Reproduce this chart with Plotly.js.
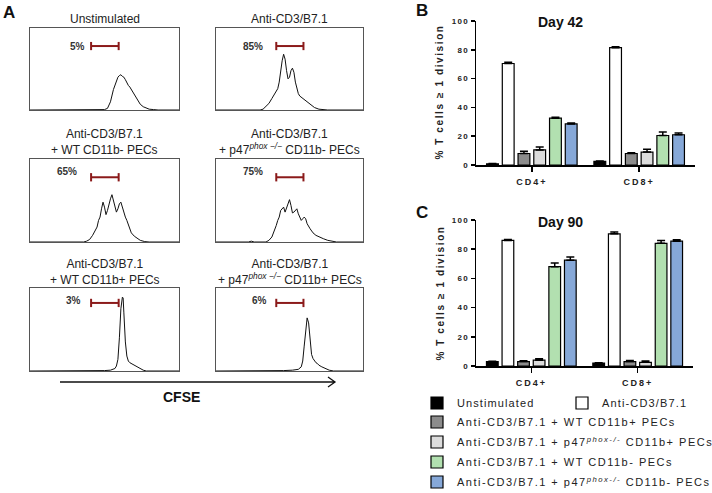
<!DOCTYPE html>
<html><head><meta charset="utf-8">
<script src="https://cdn.plot.ly/plotly-3.0.1.min.js"></script>
<style>
body{margin:0;padding:0;background:#fff}
#chart{width:712px;height:493px}
.x7tick text, .x8tick text{letter-spacing:2px}
.y7tick text, .y8tick text{letter-spacing:1.3px}
</style>
</head><body><div id="chart"></div>
<script>
// ---------- Panel A histogram data (x: CFSE position %, y: % of box height) ----------
const unstimX = [0,48,50,52,54,56,58,59,60,61,62,63,64,65,66,67,68,70,72,74,76,78,80,83,86,100];
const unstimY = [0,0,0.5,2,10,25,36,40,42,43,41,40,37,33,30,28,25,18,12,7,4,2,1,0.5,0,0];
const antiX = [0,30,32,34,36,38,40,41,42,43,44,45,46,47,48,49,50,51,52,53,54,55,56,57,59,61,63,65,67,70,73,76,100];
const antiY = [0,0,1,4,8,14,20,24,26,34,48,60,68,62,48,38,40,48,51,46,34,26,20,17,14,11,8,5,3,1,0.5,0,0];
const wtNegX = [0,36,38,40,42,44,45,46,47,48,49,50,51,52,53,54,55,56,57,58,59,60,61,62,63,64,65,66,67,68,70,72,74,77,80,100];
const wtNegY = [0,0,1,3,8,16,18,26,30,40,48,42,33,38,46,52,57,50,40,36,40,46,48,42,34,30,26,20,15,11,7,4,2,0.5,0,0];
const p47NegX = [0,22,24,26,34,36,38,40,41,42,43,44,45,46,47,48,49,50,51,52,53,54,55,56,57,58,59,60,61,62,64,66,68,70,73,76,79,82,100];
const p47NegY = [0,0,1,0,0,2,6,14,20,26,30,38,40,42,36,42,48,51,44,35,36,38,40,34,30,26,28,30,28,22,16,11,8,6,4,2,1,0,0];
const wtPosX = [0,45,50,54,57,58,59,60,61,62,62.5,63,64,65,66,67,68,69,70,72,74,76,78,100];
const wtPosY = [0,0,0.5,1,3,6,14,40,75,89,88,70,35,18,12,10,9,8,6,4,2,1,0,0];
const p47PosX = [0,44,46,52,56,58,59,60,61,62,63,64,65,66,67,68,69,70,72,74,77,80,100];
const p47PosY = [0,0,0.5,1,2,5,12,30,52,64,58,35,20,15,12,10,9,7,5,3,1,0,0];

const histTitles = [
  "Unstimulated",
  "Anti-CD3/B7.1",
  "Anti-CD3/B7.1<br>+ WT CD11b- PECs",
  "Anti-CD3/B7.1<br>+ p47<sup><i>phox −/−</i></sup> CD11b- PECs",
  "Anti-CD3/B7.1<br>+ WT CD11b+ PECs",
  "Anti-CD3/B7.1<br>+ p47<sup><i>phox −/−</i></sup> CD11b+ PECs"
];
const pctLabels = ["5%","85%","65%","75%","3%","6%"];
const gateLow = 41, gateHigh = 59.5;

// ---------- Panels B/C bar data ----------
const categories = ["CD4+","CD8+"];
const seriesNames = [
  "Unstimulated",
  "Anti-CD3/B7.1",
  "Anti-CD3/B7.1 + WT CD11b+ PECs",
  "Anti-CD3/B7.1 + p47<sup><i>phox-/-</i></sup> CD11b+ PECs",
  "Anti-CD3/B7.1 + WT CD11b- PECs",
  "Anti-CD3/B7.1 + p47<sup><i>phox-/-</i></sup> CD11b- PECs"
];
const seriesColors = ["#000000","#ffffff","#8c8c8c","#dcdcdc","#b2e0b0","#86a8d8"];

const d42_unstim = [0.8, 2.5],  d42_unstim_err = [0.2, 0.3];
const d42_anti   = [70.5, 81.5], d42_anti_err  = [0.8, 0.6];
const d42_wtPos  = [8, 8],       d42_wtPos_err = [1.5, 0.5];
const d42_p47Pos = [10.5, 9],    d42_p47Pos_err= [2, 2];
const d42_wtNeg  = [32.5, 20.5], d42_wtNeg_err = [0.7, 2.5];
const d42_p47Neg = [28.5, 21],   d42_p47Neg_err= [0.6, 1.2];

const d90_unstim = [3, 2],       d90_unstim_err = [0.3, 0.3];
const d90_anti   = [86, 90.5],   d90_anti_err  = [0.6, 1.2];
const d90_wtPos  = [3, 3],       d90_wtPos_err = [0.6, 0.7];
const d90_p47Pos = [4, 2.5],     d90_p47Pos_err= [1, 1];
const d90_wtNeg  = [68, 84],     d90_wtNeg_err = [2.5, 2];
const d90_p47Neg = [72.5, 85.5], d90_p47Neg_err= [2.2, 1];

const yTicks = [0,20,40,60,80,100];

// ---------- layout helpers ----------
const W = 712, H = 493;
const px = x => x / W, py = y => 1 - y / H;
const FONT = "Liberation Sans, Arial, sans-serif";

const histSets = [[unstimX,unstimY],[antiX,antiY],[wtNegX,wtNegY],[p47NegX,p47NegY],[wtPosX,wtPosY],[p47PosX,p47PosY]];
const boxes = [[30,179,28,110],[216,363,28,110],[30,179,159,242],[216,363,159,242],[30,179,288,371],[216,363,288,371]];
const titleY = [19,19,142,142,272,272];
const gateY = [78,78,78,78,82,82];
const pctPos = [[38.3,78,'right'],[33.3,78,'right'],[24.8,85,'center'],[25.2,85,'center'],[28.9,85,'center'],[29.9,85,'center']];

const layout = {
  width: W, height: H, autosize: false,
  margin: {l:0,r:0,t:0,b:0,pad:0,autoexpand:false},
  paper_bgcolor: "#fff", plot_bgcolor: "rgba(0,0,0,0)",
  font: {family: FONT, color: "#222"},
  barmode: "group", bargap: 0.12, bargroupgap: 0.25,
  annotations: [], shapes: [],
  showlegend: true
};
const traces = [];
const suf = i => (i === 1 ? "" : String(i));
const ann = o => layout.annotations.push(Object.assign({showarrow:false, xanchor:"center", yanchor:"middle"}, o));

histSets.forEach((hs, k) => {
  const i = k + 1, b = boxes[k];
  layout["xaxis" + suf(i)] = {domain:[px(b[0]),px(b[1])], range:[0,100], anchor:"y"+suf(i),
    showline:true, mirror:true, linecolor:"#555", linewidth:1, ticks:"", showticklabels:false,
    showgrid:false, zeroline:false, fixedrange:true};
  layout["yaxis" + suf(i)] = {domain:[py(b[3]),py(b[2])], range:[0,100], anchor:"x"+suf(i),
    showline:true, mirror:true, linecolor:"#555", linewidth:1, ticks:"", showticklabels:false,
    showgrid:false, zeroline:false, fixedrange:true};
  traces.push({type:"scatter", mode:"lines", x:hs[0], y:hs[1], xaxis:"x"+suf(i), yaxis:"y"+suf(i),
    line:{color:"#111", width:1}, showlegend:false, hoverinfo:"skip"});
  ann({xref:"paper", yref:"paper", x:px((b[0]+b[1])/2), y:py(titleY[k]),
    text: histTitles[k], font:{family:FONT, size:12, color:"#222"}});
  const p = pctPos[k];
  ann({xref:"x"+suf(i), yref:"y"+suf(i), x:p[0], y:p[1], text:"<b>"+pctLabels[k]+"</b>",
    xanchor:p[2], font:{family:FONT, size:10, color:"#333"}});
  const gc = "#8b1a1a", gy = gateY[k];
  layout.shapes.push({type:"line", xref:"x"+suf(i), yref:"y"+suf(i), x0:gateLow, x1:gateHigh, y0:gy, y1:gy, line:{color:gc, width:2}});
  layout.shapes.push({type:"line", xref:"x"+suf(i), yref:"y"+suf(i), x0:gateLow, x1:gateLow, y0:gy-5, y1:gy+5, line:{color:gc, width:2}});
  layout.shapes.push({type:"line", xref:"x"+suf(i), yref:"y"+suf(i), x0:gateHigh, x1:gateHigh, y0:gy-5, y1:gy+5, line:{color:gc, width:2}});
});

// CFSE arrow
layout.shapes.push({type:"path", xref:"paper", yref:"paper",
  path:`M${px(60)},${py(382)} L${px(335)},${py(382)} M${px(328)},${py(377)} L${px(335)},${py(382)} L${px(328)},${py(387)}`,
  line:{color:"#111", width:1.3}});
ann({xref:"paper", yref:"paper", x:px(181), y:py(397), text:"<b>CFSE</b>", font:{family:FONT, size:14, color:"#111"}});

// panel letters
[["A",9,12.5],["B",421.5,11],["C",421.5,212]].forEach(l => {
  ann({xref:"paper", yref:"paper", x:px(l[1]), y:py(l[2]), text:"<b>"+l[0]+"</b>", font:{family:FONT, size:17, color:"#111"}});
});

// bar axes
function barAxes(n, x0, x1, yTop, yBot) {
  layout["xaxis"+n] = {domain:[px(x0),px(x1)], range:[-0.52,1.52], anchor:"y"+n, type:"category",
    showline:true, linecolor:"#000", linewidth:1.5, ticks:"outside", ticklen:5, tickwidth:1.5, tickcolor:"#000",
    ticklabelstandoff:3,
    showgrid:false, zeroline:false, tickfont:{family:FONT, size:9, color:"#222", weight:"bold"}, fixedrange:true};
  layout["yaxis"+n] = {domain:[py(yBot),py(yTop)], range:[0,100], anchor:"x"+n,
    showline:true, linecolor:"#000", linewidth:1.5, ticks:"outside", ticklen:4, tickwidth:1.5, tickcolor:"#000",
    tickvals:yTicks, showgrid:false, zeroline:false, tickfont:{family:FONT, size:8, color:"#222", weight:"bold"}, fixedrange:true};
}
barAxes(7, 476, 695, 21, 165);
barAxes(8, 476, 693, 220, 366);

const d42 = [[d42_unstim,d42_unstim_err],[d42_anti,d42_anti_err],[d42_wtPos,d42_wtPos_err],[d42_p47Pos,d42_p47Pos_err],[d42_wtNeg,d42_wtNeg_err],[d42_p47Neg,d42_p47Neg_err]];
const d90 = [[d90_unstim,d90_unstim_err],[d90_anti,d90_anti_err],[d90_wtPos,d90_wtPos_err],[d90_p47Pos,d90_p47Pos_err],[d90_wtNeg,d90_wtNeg_err],[d90_p47Neg,d90_p47Neg_err]];
const legendOf = s => (s === 0 ? "legend" : s === 1 ? "legend3" : "legend2");

[[d42,7,true],[d90,8,false]].forEach(([data, n, showL]) => {
  data.forEach((sv, s) => {
    traces.push({type:"bar", x:categories, y:sv[0], name:seriesNames[s], xaxis:"x"+n, yaxis:"y"+n,
      marker:{color:seriesColors[s], line:{color:"#000", width:1.2}},
      error_y:{type:"data", symmetric:false, array:sv[1], arrayminus:sv[1].map(() => 0), color:"#000", thickness:1.5, width:4},
      showlegend:showL, legend:legendOf(s), legendgroup:"g"+s, hoverinfo:"skip"});
  });
});

// bar titles
ann({xref:"paper", yref:"paper", x:px(560.5), y:py(22), text:"<b>Day 42</b>", font:{family:FONT, size:14, color:"#111"}});
ann({xref:"paper", yref:"paper", x:px(560), y:py(222), text:"<b>Day 90</b>", font:{family:FONT, size:14, color:"#111"}});
const spacedStart = layout.annotations.length;
ann({xref:"paper", yref:"paper", x:px(440), y:py(92), text:"<b>% T cells ≥ 1 division</b>",
  textangle:-90, font:{family:FONT, size:10, color:"#222"}});
ann({xref:"paper", yref:"paper", x:px(440), y:py(293), text:"<b>% T cells ≥ 1 division</b>",
  textangle:-90, font:{family:FONT, size:10, color:"#222"}});

// legends
const legFont = {family:FONT, size:11, color:"#222"};
const legBase = {xanchor:"left", yanchor:"top", orientation:"v", font:legFont, bgcolor:"rgba(0,0,0,0)", itemclick:false, itemdoubleclick:false};
layout.legend  = Object.assign({x:px(417), y:py(388.5), traceorder:"normal"}, legBase);
layout.legend3 = Object.assign({x:px(562), y:py(388.5), traceorder:"normal"}, legBase);
layout.legend2 = Object.assign({x:px(417), y:py(407.5), traceorder:"grouped", tracegroupgap:1}, legBase);
const legendSpacing = {legend:"1.1px", legend2:"1.5px", legend3:"1.15px"};

// letter spacing for y titles
const st = document.createElement("style");
st.textContent = `g.annotation[data-index="${spacedStart}"] text, g.annotation[data-index="${spacedStart+1}"] text {letter-spacing:1.6px}`;
document.head.appendChild(st);

Plotly.newPlot("chart", traces, layout, {displayModeBar:false, staticPlot:true}).then(gd => {
  // letter-spaced legend texts, as in the reference; unclip so the wider texts stay whole
  gd.querySelectorAll("g.infolayer > g").forEach(g => {
    const cls = g.getAttribute("class") || "";
    if (!legendSpacing[cls]) return;
    g.querySelectorAll("text").forEach(t => { t.style.letterSpacing = legendSpacing[cls]; });
    g.querySelectorAll("[clip-path]").forEach(e => e.removeAttribute("clip-path"));
  });
});
</script></body></html>
